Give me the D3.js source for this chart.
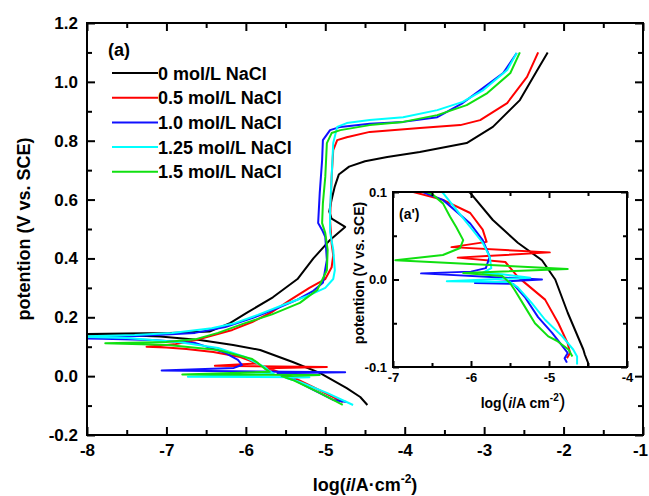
<!DOCTYPE html>
<html>
<head>
<meta charset="utf-8">
<script src="https://cdn.jsdelivr.net/npm/d3@7"></script>
<style>
  body { margin: 0; background: #fff; }
  svg { font-family: "Liberation Sans", Arial, sans-serif; font-weight: bold; }
</style>
</head>
<body>
<div id="chart"></div>
<script>
// legend names
const seriesNames = ['0 mol/L NaCl', '0.5 mol/L NaCl', '1.0 mol/L NaCl', '1.25 mol/L NaCl', '1.5 mol/L NaCl'];

// main plot curves, [log(i), E] (cathodic end -> anodic end)
const main0 = [[-4.47,-0.098],[-4.56,-0.071],[-4.73,-0.041],[-5.07,0.011],[-5.41,0.048],[-5.82,0.089],[-6.16,0.106],[-6.58,0.123],[-7.08,0.135],[-7.6,0.14],[-8.3,0.142],[-7.5,0.145],[-6.96,0.147],[-6.45,0.152],[-6.2,0.18],[-5.99,0.215],[-5.66,0.268],[-5.35,0.33],[-5.15,0.40],[-4.94,0.463],[-4.75,0.507],[-4.92,0.535],[-4.95,0.56],[-4.92,0.6],[-4.88,0.645],[-4.83,0.685],[-4.7,0.712],[-4.5,0.73],[-4.22,0.745],[-3.81,0.762],[-3.22,0.792],[-2.89,0.847],[-2.55,0.938],[-2.33,1.04],[-2.2,1.10]];
const main05 = [[-4.78,-0.088],[-4.9,-0.071],[-5.15,-0.037],[-5.41,-0.003],[-5.66,0.021],[-5.75,0.027],[-4.98,0.031],[-6.39,0.035],[-5.85,0.043],[-6.07,0.065],[-6.41,0.082],[-6.75,0.092],[-7.0,0.097],[-7.25,0.1],[-6.9,0.108],[-6.64,0.122],[-6.17,0.157],[-5.92,0.184],[-5.67,0.218],[-5.44,0.259],[-5.2,0.3],[-5.0,0.33],[-4.92,0.37],[-4.9,0.41],[-4.92,0.45],[-4.94,0.53],[-4.92,0.677],[-4.9,0.768],[-4.85,0.802],[-4.73,0.812],[-4.44,0.83],[-3.81,0.843],[-3.30,0.853],[-3.05,0.87],[-2.71,0.928],[-2.46,1.017],[-2.32,1.10]];
const main10 = [[-4.73,-0.088],[-4.9,-0.081],[-5.15,-0.047],[-5.44,-0.006],[-5.6,0.01],[-4.75,0.013],[-7.06,0.019],[-6.15,0.028],[-6.05,0.038],[-6.1,0.055],[-6.26,0.079],[-6.64,0.113],[-7.18,0.123],[-7.8,0.127],[-8.2,0.129],[-7.5,0.135],[-6.64,0.147],[-6.26,0.167],[-5.92,0.197],[-5.6,0.231],[-5.35,0.26],[-5.15,0.29],[-5.03,0.317],[-4.98,0.395],[-5.0,0.473],[-5.04,0.497],[-5.09,0.52],[-5.07,0.622],[-5.04,0.734],[-5.03,0.802],[-4.94,0.836],[-4.81,0.847],[-4.44,0.858],[-4.02,0.864],[-3.59,0.88],[-3.27,0.928],[-3.05,0.972],[-2.76,1.03],[-2.59,1.098]];
const main125 = [[-4.65,-0.098],[-4.98,-0.057],[-5.32,-0.02],[-5.5,-0.006],[-5.2,-0.004],[-6.73,-0.002],[-5.65,0.008],[-5.72,0.021],[-5.76,0.031],[-6.01,0.065],[-6.35,0.096],[-6.85,0.116],[-7.5,0.13],[-8.2,0.134],[-7.4,0.14],[-6.93,0.147],[-6.43,0.163],[-6.14,0.18],[-5.85,0.208],[-5.5,0.245],[-5.2,0.275],[-5.0,0.30],[-4.9,0.33],[-4.88,0.36],[-4.9,0.43],[-4.94,0.49],[-4.94,0.565],[-4.92,0.677],[-4.9,0.792],[-4.85,0.847],[-4.73,0.86],[-4.44,0.87],[-4.02,0.88],[-3.59,0.904],[-3.27,0.932],[-3.01,0.972],[-2.71,1.04],[-2.59,1.098]];
const main15 = [[-4.78,-0.098],[-5.07,-0.057],[-5.41,-0.013],[-5.55,0.0],[-5.07,0.004],[-6.8,0.006],[-5.7,0.015],[-5.76,0.025],[-5.85,0.045],[-5.92,0.058],[-6.35,0.089],[-6.98,0.106],[-7.77,0.112],[-7.0,0.116],[-6.64,0.125],[-6.35,0.147],[-6.01,0.18],[-5.67,0.21],[-5.32,0.249],[-5.1,0.293],[-4.98,0.36],[-4.97,0.429],[-5.0,0.486],[-5.04,0.52],[-5.03,0.588],[-5.0,0.677],[-4.98,0.792],[-4.92,0.826],[-4.81,0.836],[-4.44,0.853],[-4.02,0.864],[-3.59,0.887],[-3.22,0.921],[-2.96,0.962],[-2.67,1.03],[-2.55,1.10]];

// inset (a') curves, zoom of the cathodic region
const inset0 = [[-4.5,-0.1],[-4.5,-0.095],[-4.54,-0.086],[-4.56,-0.08],[-4.76,-0.038],[-4.92,0.0],[-5.09,0.022],[-5.4,0.042],[-5.72,0.068],[-6.01,0.099],[-6.3,0.115]];
const inset05 = [[-4.77,-0.09],[-4.73,-0.084],[-4.76,-0.073],[-4.88,-0.05],[-5.05,-0.023],[-5.4,0.003],[-5.56,0.02],[-6.17,0.025],[-4.99,0.031],[-6.25,0.037],[-5.8,0.043],[-5.85,0.057],[-6.01,0.076],[-6.36,0.091],[-6.74,0.1],[-7.05,0.104]];
const inset10 = [[-4.77,-0.095],[-4.8,-0.09],[-4.76,-0.084],[-4.82,-0.077],[-4.96,-0.061],[-5.14,-0.043],[-5.31,-0.02],[-5.46,-0.005],[-5.95,-0.004],[-5.09,0.0],[-6.64,0.007],[-6.0,0.009],[-5.81,0.013],[-5.76,0.026],[-5.85,0.045],[-6.01,0.064],[-6.36,0.091],[-6.62,0.1],[-6.9,0.11]];
const inset125 = [[-4.64,-0.097],[-4.64,-0.088],[-4.69,-0.08],[-4.83,-0.065],[-5.05,-0.046],[-5.22,-0.027],[-5.4,-0.009],[-5.5,-0.003],[-6.31,-0.002],[-5.24,0.002],[-5.6,0.006],[-5.85,0.0075],[-5.74,0.013],[-5.76,0.026],[-5.85,0.042],[-6.01,0.06],[-6.19,0.08],[-6.36,0.099],[-6.5,0.11]];
const inset15 = [[-4.7,-0.088],[-4.75,-0.08],[-4.9,-0.07],[-5.01,-0.065],[-5.18,-0.05],[-5.31,-0.031],[-5.44,-0.012],[-5.5,-0.004],[-5.6,0.004],[-6.1,0.0075],[-4.76,0.012],[-6.97,0.022],[-6.36,0.028],[-6.14,0.036],[-6.1,0.045],[-6.19,0.06],[-6.27,0.072],[-6.36,0.087],[-6.49,0.097],[-6.7,0.105]];

// ticks
const xMajor = [-8,-7,-6,-5,-4,-3,-2,-1];
const xMinor = [-7.5,-6.5,-5.5,-4.5,-3.5,-2.5,-1.5];
const yMajor = [-0.2,0.0,0.2,0.4,0.6,0.8,1.0,1.2];
const yMinor = [-0.1,0.1,0.3,0.5,0.7,0.9,1.1];
const ixMajor = [-7,-6,-5,-4];
const ixMinor = [-6.5,-5.5,-4.5];
const iyMajor = [-0.1,0.0,0.1];
const iyMinor = [-0.05,0.05];

const colors = ['#000000','#ff0000','#1010ff','#00ffff','#10e010'];
const mainData = [main0, main05, main10, main125, main15];
const insetData = [inset0, inset05, inset10, inset125, inset15];

const W = 649, H = 496;
const svg = d3.select('#chart').append('svg').attr('width', W).attr('height', H);

const x = d3.scaleLinear().domain([-8,-1]).range([87,643]);
const y = d3.scaleLinear().domain([-0.2,1.2]).range([435,23]);

svg.append('clipPath').attr('id','clipMain').append('rect')
  .attr('x',87).attr('y',23).attr('width',556).attr('height',412);

function drawAxes(g, xs, ys, xMaj, xMin, yMaj, yMin, fs, majLen, minLen, pad, fmtX, fmtY) {
  const [x0,x1] = xs.range(), [y0,y1] = ys.range();
  const bottom = g.append('g').attr('transform',`translate(0,${y0})`);
  bottom.call(d3.axisBottom(xs).tickValues(xMaj).tickSize(-majLen).tickPadding(pad).tickFormat(fmtX));
  bottom.append('g').call(d3.axisBottom(xs).tickValues(xMin).tickSize(-minLen).tickFormat(''));
  const top = g.append('g').attr('transform',`translate(0,${y1})`);
  top.call(d3.axisTop(xs).tickValues(xMaj).tickSize(-majLen).tickFormat(''));
  top.append('g').call(d3.axisTop(xs).tickValues(xMin).tickSize(-minLen).tickFormat(''));
  const left = g.append('g').attr('transform',`translate(${x0},0)`);
  left.call(d3.axisLeft(ys).tickValues(yMaj).tickSize(-majLen).tickPadding(pad).tickFormat(fmtY));
  left.append('g').call(d3.axisLeft(ys).tickValues(yMin).tickSize(-minLen).tickFormat(''));
  const right = g.append('g').attr('transform',`translate(${x1},0)`);
  right.call(d3.axisRight(ys).tickValues(yMaj).tickSize(-majLen).tickFormat(''));
  right.append('g').call(d3.axisRight(ys).tickValues(yMin).tickSize(-minLen).tickFormat(''));
  g.selectAll('.domain').remove();
  g.selectAll('.tick line').attr('stroke','#000').attr('stroke-width',2);
  g.selectAll('.tick text').attr('fill','#000').style('font-size',fs+'px').style('font-weight','bold')
    .style('font-family','"Liberation Sans", Arial, sans-serif');
  g.append('rect').attr('x',x0).attr('y',y1).attr('width',x1-x0).attr('height',y0-y1)
    .attr('fill','none').attr('stroke','#000').attr('stroke-width',2);
  return bottom;
}

// main curves
const line = d3.line().x(d => x(d[0])).y(d => y(d[1]));
const curves = svg.append('g').attr('clip-path','url(#clipMain)');
mainData.forEach((d,i) => {
  curves.append('path').datum(d).attr('d', line).attr('fill','none')
    .attr('stroke', colors[i]).attr('stroke-width', 2).attr('stroke-linejoin','round');
});

const mainBottom = drawAxes(svg.append('g'), x, y, xMajor, xMinor, yMajor, yMinor, 17, 8, 5, 9,
  d => String(d), d => d.toFixed(1));
// keep the last x label inside the page
mainBottom.selectAll('.tick text').filter(d => d === -1).attr('dx', -3);

// axis titles
svg.append('text').attr('transform','translate(30,229) rotate(-90)').attr('text-anchor','middle')
  .style('font-size','18px').text('potention (V vs. SCE)');
const xt = svg.append('text').attr('x',365).attr('y',491).attr('text-anchor','middle').style('font-size','18px');
xt.append('tspan').text('log(');
xt.append('tspan').style('font-style','italic').text('i');
xt.append('tspan').text('/A\u00b7cm');
xt.append('tspan').attr('dy',-8).style('font-size','12px').text('-2');
xt.append('tspan').attr('dy',8).text(')');

// panel label and legend
svg.append('text').attr('x',108).attr('y',56).style('font-size','18px').text('(a)');
const legend = svg.append('g');
seriesNames.forEach((name,i) => {
  const ly = 73 + i * 24.7;
  legend.append('line').attr('x1',112).attr('x2',158).attr('y1',ly).attr('y2',ly)
    .attr('stroke',colors[i]).attr('stroke-width',2);
  legend.append('text').attr('x',158).attr('y',ly+6.5).style('font-size','18px').text(name);
});

// inset
const xi = d3.scaleLinear().domain([-7,-4]).range([393,627]);
const yi = d3.scaleLinear().domain([-0.1,0.1]).range([367,192]);
svg.append('rect').attr('x',393).attr('y',192).attr('width',234).attr('height',175).attr('fill','#fff');
svg.append('clipPath').attr('id','clipInset').append('rect')
  .attr('x',393).attr('y',192).attr('width',234).attr('height',175);
const iline = d3.line().x(d => xi(d[0])).y(d => yi(d[1]));
const icurves = svg.append('g').attr('clip-path','url(#clipInset)');
insetData.forEach((d,i) => {
  icurves.append('path').datum(d).attr('d', iline).attr('fill','none')
    .attr('stroke', colors[i]).attr('stroke-width', 2).attr('stroke-linejoin','round');
});
drawAxes(svg.append('g'), xi, yi, ixMajor, ixMinor, iyMajor, iyMinor, 13, 6, 4, 6,
  d => String(d), d => d.toFixed(1));
svg.append('text').attr('x',399).attr('y',219).style('font-size','14px').text("(a')");
svg.append('text').attr('transform','translate(364,273) rotate(-90)').attr('text-anchor','middle')
  .style('font-size','14px').text('potention (V vs. SCE)');
const it = svg.append('text').attr('x',523).attr('y',408).attr('text-anchor','middle').style('font-size','14px');
it.append('tspan').text('log');
it.append('tspan').style('font-size','20px').style('font-weight','normal').text('(');
it.append('tspan').style('font-style','italic').text('i');
it.append('tspan').text('/A cm');
it.append('tspan').attr('dy',-7).style('font-size','10px').text('-2');
it.append('tspan').attr('dy',7).style('font-size','20px').style('font-weight','normal').text(')');
</script>
</body>
</html>
